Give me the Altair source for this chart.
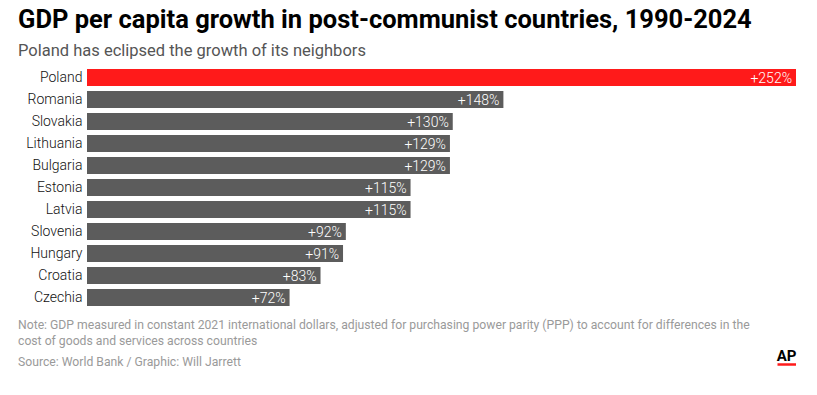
import altair as alt
import pandas as pd

countries = ["Poland", "Romania", "Slovakia", "Lithuania", "Bulgaria", "Estonia",
             "Latvia", "Slovenia", "Hungary", "Croatia", "Czechia"]
growth = [252, 148, 130, 129, 129, 115, 115, 92, 91, 83, 72]
highlight = ["Poland"]

df = pd.DataFrame({"country": countries, "growth": growth})
df["label"] = ["+" + str(v) + "%" for v in growth]
df["hl"] = ["yes" if c in highlight else "no" for c in countries]

note_lines = ["Note: GDP measured in constant 2021 international dollars, adjusted for purchasing power parity (PPP) to account for differences in the",
              "cost of goods and services across countries"]
source = "Source: World Bank / Graphic: Will Jarrett"

W, H = 709, 242
FONT = "Roboto"

y_enc = alt.Y("country:N", sort=countries, title=None,
              scale=alt.Scale(paddingInner=0.23, paddingOuter=0.115),
              axis=alt.Axis(ticks=False, domain=False, labelFontSize=14, labelFont=FONT,
                            labelFontWeight=300, labelColor="#111", labelPadding=5))
x_enc = alt.X("growth:Q", title=None, scale=alt.Scale(domain=[0, 252], nice=False, zero=True),
              axis=None)

bars = alt.Chart(df).mark_bar().encode(
    x=x_enc, y=y_enc,
    color=alt.Color("hl:N", scale=alt.Scale(domain=["yes", "no"], range=["#ff1a1a", "#5c5c5c"]), legend=None),
)
labels = alt.Chart(df).mark_text(align="right", baseline="middle", dx=-4, dy=1, color="white",
                                 font=FONT, fontSize=14, fontWeight=300).encode(
    x="growth:Q", y=alt.Y("country:N", sort=countries), text="label:N")

dummy = pd.DataFrame({"a": [0]})
note = alt.Chart(dummy).mark_text(align="left", baseline="alphabetic", font=FONT,
                                  fontSize=12.2, color="#9a9a9a", lineHeight=16,
                                  text=note_lines).encode(x=alt.value(-69), y=alt.value(262.5))
src = alt.Chart(dummy).mark_text(align="left", baseline="alphabetic", font=FONT,
                                 fontSize=12.2, color="#9a9a9a", text=source).encode(
    x=alt.value(-69), y=alt.value(299))
ap = alt.Chart(dummy).mark_text(align="center", baseline="alphabetic", font=FONT,
                                fontSize=15, fontWeight="bold", color="#000", text="AP").encode(
    x=alt.value(699.5), y=alt.value(294.5))
ap_line = alt.Chart(dummy).mark_rule(color="#ff1a1a", strokeWidth=2.5).encode(
    x=alt.value(690.5), x2=alt.value(709), y=alt.value(298))

chart = alt.layer(bars, labels, note, src, ap, ap_line).properties(
    width=W, height=H,
    title=alt.TitleParams("GDP per capita growth in post-communist countries, 1990-2024",
                          subtitle="Poland has eclipsed the growth of its neighbors",
                          anchor="start", frame="group", dx=-69, offset=7,
                          font=FONT, fontSize=25.5, fontWeight="bold", color="#000",
                          subtitleFont=FONT, subtitleFontSize=16.5, subtitleColor="#555",
                          subtitlePadding=10),
    autosize=alt.AutoSizeParams(type="none"),
    padding={"left": 79, "right": 13, "top": 58.5, "bottom": 78.5},
).configure_view(stroke=None)

chart.save("out.html", embed_options={"renderer": "svg", "actions": False})
